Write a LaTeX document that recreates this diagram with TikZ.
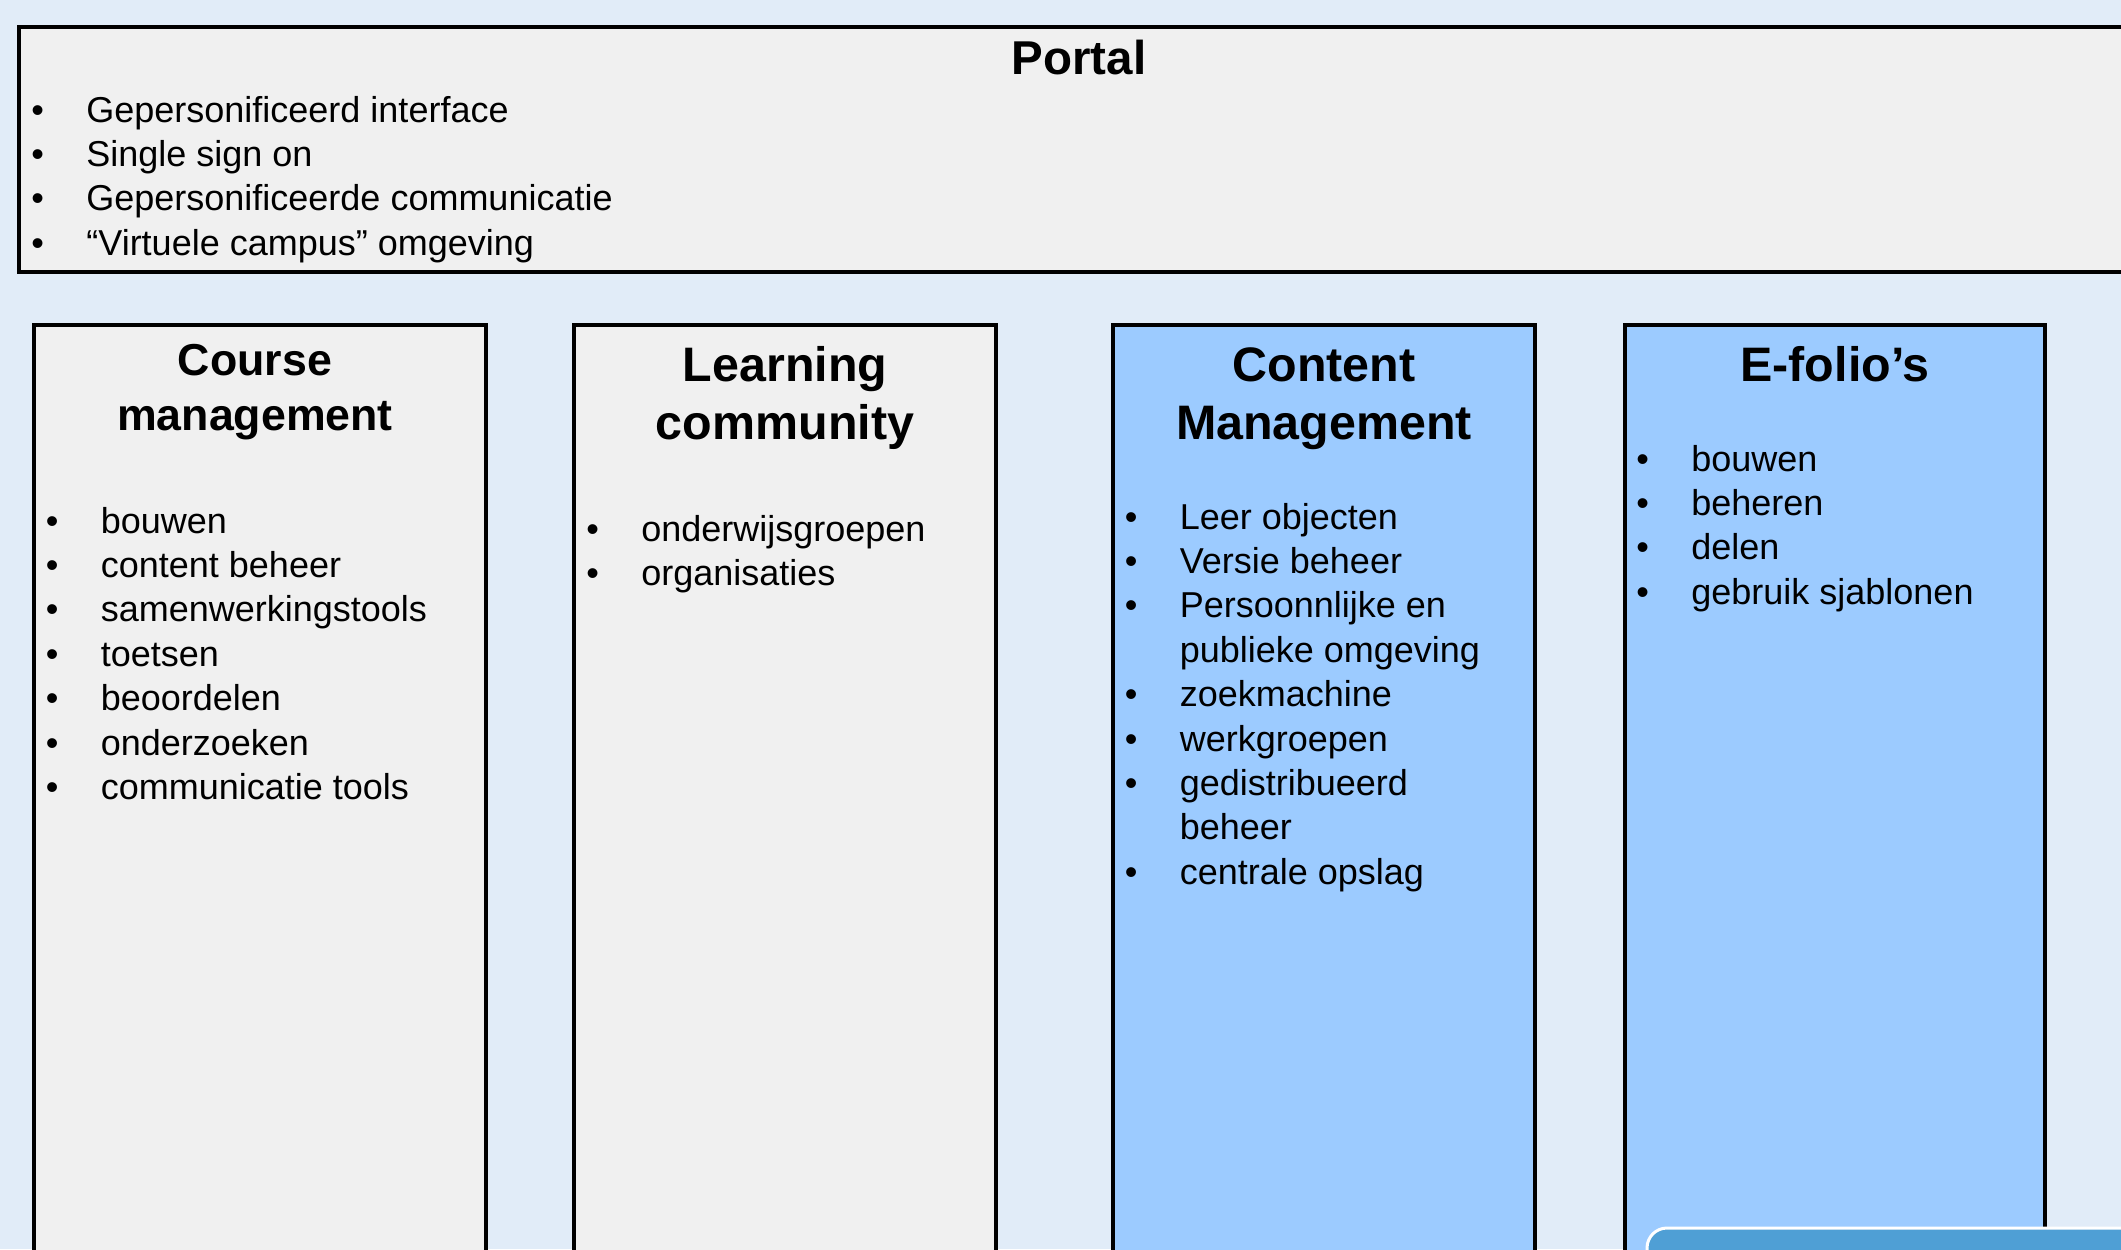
\documentclass[tikz,border=0pt]{standalone}
\usepackage{fontspec}
\setmainfont{Liberation Sans}
\definecolor{bg}{HTML}{E1ECF8}
\definecolor{paper}{HTML}{F0F0F0}
\definecolor{sky}{HTML}{9CCBFF}
\definecolor{deepsky}{HTML}{4F9FD5}
\newcommand{\bul}{\makebox[27.5pt][l]{\textbullet}}
\newcommand{\cont}{\hspace*{27.5pt}}

\begin{document}
\begin{tikzpicture}[x=0.5pt, y=-0.5pt,
  box/.style={draw=black, line width=2pt},
  title/.style={anchor=base, inner sep=0pt, font=\bfseries\fontsize{24.2}{29}\selectfont},
  list/.style={anchor=base west, inner sep=0pt, font=\fontsize{18}{22.2}\selectfont}]
\useasboundingbox (0,0) rectangle (2121,1249);
\clip (0,0) rectangle (2121,1249);
\fill [bg] (0,0) rectangle (2121,1249);
% portal strip
\draw [box, fill=paper] (19,27) rectangle (2200,272);
\node [title, font=\bfseries\fontsize{23.75}{29}\selectfont] (portal) at (1079,74) {Portal};
\node [list] (portallist) at (31,122) {\begin{tabular}[t]{@{}l@{}}
\bul Gepersonificeerd interface\\
\bul Single sign on\\
\bul Gepersonificeerde communicatie\\
\bul “Virtuele campus” omgeving
\end{tabular}};
% the four columns
\draw [box, fill=paper] (34,325) rectangle (486,1300);
\draw [box, fill=paper] (574,325) rectangle (996,1300);
\draw [box, fill=sky] (1113,325) rectangle (1535,1300);
\draw [box, fill=sky] (1625,325) rectangle (2045,1300);
\node [title, font=\bfseries\fontsize{22.35}{27.5}\selectfont] (course) at (255,375)
  {\begin{tabular}[t]{@{}c@{}}Course\\management\end{tabular}};
\node [title] (community) at (785,381)
  {\begin{tabular}[t]{@{}c@{}}Learning\\community\end{tabular}};
\node [title] (content) at (1324,381)
  {\begin{tabular}[t]{@{}c@{}}Content\\Management\end{tabular}};
\node [title] (efolio) at (1835,381) {E-folio’s};
\node [list] (courselist) at (45.5,533) {\begin{tabular}[t]{@{}l@{}}
\bul bouwen\\
\bul content beheer\\
\bul samenwerkingstools\\
\bul toetsen\\
\bul beoordelen\\
\bul onderzoeken\\
\bul communicatie tools
\end{tabular}};
\node [list] (communitylist) at (586,541) {\begin{tabular}[t]{@{}l@{}}
\bul onderwijsgroepen\\
\bul organisaties
\end{tabular}};
\node [list] (contentlist) at (1124.5,529) {\begin{tabular}[t]{@{}l@{}}
\bul Leer objecten\\
\bul Versie beheer\\
\bul Persoonnlijke en\\
\cont publieke omgeving\\
\bul zoekmachine\\
\bul werkgroepen\\
\bul gedistribueerd\\
\cont beheer\\
\bul centrale opslag
\end{tabular}};
\node [list] (efoliolist) at (1636,471) {\begin{tabular}[t]{@{}l@{}}
\bul bouwen\\
\bul beheren\\
\bul delen\\
\bul gebruik sjablonen
\end{tabular}};
% corner of the next panel
\draw [white, line width=1.5pt, fill=deepsky, rounded corners=10pt] (1647,1228) rectangle (2250,1350);
\end{tikzpicture}
\end{document}
